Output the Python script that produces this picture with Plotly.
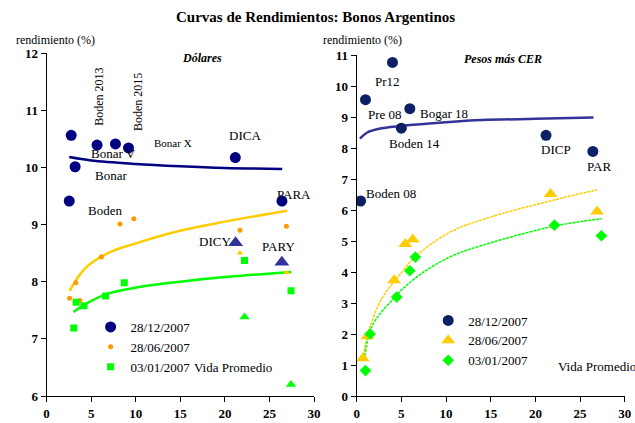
import plotly.graph_objects as go

SERIF = "Liberation Serif"

# ---------------- Left panel: Dólares ----------------
usd_dec_x = [2.76, 3.2, 2.54, 5.66, 7.72, 9.19, 21.17, 26.4]
usd_dec_y = [10.56, 10.01, 9.41, 10.39, 10.41, 10.34, 10.17, 9.41]
usd_dec_tri_x = [21.2, 26.39]
usd_dec_tri_y = [8.68, 8.34]

usd_jun_x = [2.58, 3.27, 3.75, 6.14, 8.24, 9.78, 21.69, 26.9]
usd_jun_y = [7.71, 7.98, 7.67, 8.43, 9.01, 9.10, 8.90, 8.97]
usd_jun_tri_x = [21.69, 26.94]
usd_jun_tri_y = [8.50, 8.16]

usd_jan_x = [3.05, 3.31, 4.19, 6.62, 8.71, 22.2, 27.42]
usd_jan_y = [7.19, 7.64, 7.58, 7.75, 7.98, 8.37, 7.84]
usd_jan_tri_x = [22.2, 27.42]
usd_jan_tri_y = [7.38, 6.2]

usd_trend_dec_x = [2.54, 5, 10, 15, 20, 26.43]
usd_trend_dec_y = [10.18, 10.12, 10.06, 10.02, 9.99, 9.97]
usd_trend_jun_x = [2.58, 4.3, 6.88, 10, 14.96, 20, 26.98]
usd_trend_jun_y = [7.84, 8.23, 8.50, 8.67, 8.89, 9.05, 9.24]
usd_trend_jan_x = [3.02, 4.5, 6.88, 10.55, 14.96, 20, 27.45]
usd_trend_jan_y = [7.47, 7.62, 7.79, 7.91, 8.0, 8.08, 8.17]

# ---------------- Right panel: Pesos más CER ----------------
cer_dec_x = [4.01, 0.99, 5.95, 5.0, 21.19, 26.43, 0.44]
cer_dec_y = [10.76, 9.56, 9.27, 8.64, 8.41, 7.89, 6.29]
cer_jun_x = [0.7, 1.21, 4.19, 5.44, 6.28, 21.7, 26.9]
cer_jun_y = [1.22, 1.93, 3.73, 4.90, 5.05, 6.52, 5.95]
cer_jan_x = [0.99, 1.51, 4.48, 5.95, 6.57, 22.14, 27.39]
cer_jan_y = [0.82, 2.0, 3.19, 4.04, 4.48, 5.51, 5.17]

cer_trend_dec_x = [0.37, 1.18, 2.5, 5.0, 10, 14.03, 20, 26.5]
cer_trend_dec_y = [8.30, 8.50, 8.62, 8.71, 8.83, 8.90, 8.94, 8.98]
cer_trend_jun_x = [0.74, 1.36, 2.83, 5.03, 6.5, 10.54, 14.4, 21.74, 26.9]
cer_trend_jun_y = [1.3, 2.1, 3.15, 3.98, 4.48, 5.3, 5.72, 6.3, 6.65]
cer_trend_jan_x = [0.92, 1.73, 4.3, 6.87, 10.54, 14.39, 22.1, 27.42]
cer_trend_jan_y = [1.29, 2.26, 3.2, 3.87, 4.5, 4.89, 5.48, 5.72]

x_ticks = [0, 5, 10, 15, 20, 25, 30]
usd_y_ticks = [6, 7, 8, 9, 10, 11, 12]
cer_y_ticks = list(range(0, 12))

def bold(vals):
    return ["<b>%d</b>" % v for v in vals]

NAVY = "#000080"
NAVY2 = "#0C2066"
SLATE = "#333399"
GOLD = "#FFCC00"
ORANGE = "#FF9900"
LIME = "#00FF00"

fig = go.Figure()

# Left trendlines
fig.add_trace(go.Scatter(x=usd_trend_dec_x, y=usd_trend_dec_y, mode="lines", line=dict(color=NAVY, width=2.5, shape="spline"), showlegend=False, xaxis="x", yaxis="y"))
fig.add_trace(go.Scatter(x=usd_trend_jun_x, y=usd_trend_jun_y, mode="lines", line=dict(color=GOLD, width=2.5, shape="spline"), showlegend=False, xaxis="x", yaxis="y"))
fig.add_trace(go.Scatter(x=usd_trend_jan_x, y=usd_trend_jan_y, mode="lines", line=dict(color=LIME, width=2.5, shape="spline"), showlegend=False, xaxis="x", yaxis="y"))

# Left markers
fig.add_trace(go.Scatter(x=usd_dec_x, y=usd_dec_y, mode="markers", name="28/12/2007", marker=dict(color=NAVY, size=11, symbol="circle"), legend="legend", xaxis="x", yaxis="y"))
fig.add_trace(go.Scatter(x=usd_jun_x, y=usd_jun_y, mode="markers", name="28/06/2007", marker=dict(color=ORANGE, size=5, symbol="circle"), legend="legend", xaxis="x", yaxis="y"))
fig.add_trace(go.Scatter(x=usd_jan_x, y=usd_jan_y, mode="markers", name="03/01/2007", marker=dict(color=LIME, size=7, symbol="square"), legend="legend", xaxis="x", yaxis="y"))
fig.add_trace(go.Scatter(x=usd_dec_tri_x, y=usd_dec_tri_y, mode="markers", marker=dict(color=SLATE, size=13, symbol="triangle-up"), showlegend=False, xaxis="x", yaxis="y"))
fig.add_trace(go.Scatter(x=usd_jun_tri_x, y=usd_jun_tri_y, mode="markers", marker=dict(color=GOLD, size=6, symbol="triangle-up"), showlegend=False, xaxis="x", yaxis="y"))
fig.add_trace(go.Scatter(x=usd_jan_tri_x, y=usd_jan_tri_y, mode="markers", marker=dict(color=LIME, size=9, symbol="triangle-up"), showlegend=False, xaxis="x", yaxis="y"))

# Right trendlines
fig.add_trace(go.Scatter(x=cer_trend_dec_x, y=cer_trend_dec_y, mode="lines", line=dict(color=SLATE, width=2.5, shape="spline"), showlegend=False, xaxis="x2", yaxis="y2"))
fig.add_trace(go.Scatter(x=cer_trend_jun_x, y=cer_trend_jun_y, mode="lines", line=dict(color=GOLD, width=1.5, shape="spline", dash="3px,1px"), showlegend=False, xaxis="x2", yaxis="y2"))
fig.add_trace(go.Scatter(x=cer_trend_jan_x, y=cer_trend_jan_y, mode="lines", line=dict(color=LIME, width=1.5, shape="spline", dash="3px,1px"), showlegend=False, xaxis="x2", yaxis="y2"))

# Right markers
fig.add_trace(go.Scatter(x=cer_dec_x, y=cer_dec_y, mode="markers", name="28/12/2007", marker=dict(color=NAVY2, size=11, symbol="circle"), legend="legend2", xaxis="x2", yaxis="y2"))
fig.add_trace(go.Scatter(x=cer_jun_x, y=cer_jun_y, mode="markers", name="28/06/2007", marker=dict(color=GOLD, size=12, symbol="triangle-up"), legend="legend2", xaxis="x2", yaxis="y2"))
fig.add_trace(go.Scatter(x=cer_jan_x, y=cer_jan_y, mode="markers", name="03/01/2007", marker=dict(color=LIME, size=9, symbol="diamond"), legend="legend2", xaxis="x2", yaxis="y2"))

tickfont = dict(family=SERIF, size=13, color="#000000")
axis_common = dict(showline=True, linecolor="#000000", linewidth=1.2, ticks="outside", ticklen=5,
                   tickcolor="#000000", showgrid=False, zeroline=False, tickfont=tickfont)

fig.update_layout(
    width=635, height=423,
    margin=dict(l=0, r=0, t=53, b=27),
    paper_bgcolor="white", plot_bgcolor="white",
    xaxis=dict(domain=[44.3/635, 316/635], range=[0, 30], tickvals=x_ticks, ticktext=bold(x_ticks), anchor="y", **axis_common),
    yaxis=dict(domain=[0, 1], range=[6, 12], tickvals=usd_y_ticks, ticktext=bold(usd_y_ticks), anchor="x", **axis_common),
    xaxis2=dict(domain=[359.3/635, 631.7/635], range=[0, 30], tickvals=x_ticks, ticktext=bold(x_ticks), anchor="y2", **axis_common),
    yaxis2=dict(domain=[0, 341/343], range=[0, 11], tickvals=cer_y_ticks, ticktext=bold(cer_y_ticks), anchor="x2", **axis_common),
    legend=dict(x=89/635, y=(396-312)/343, xanchor="left", yanchor="top", bgcolor="rgba(0,0,0,0)",
                font=dict(family=SERIF, size=13, color="#000"), tracegroupgap=0, itemclick=False),
    legend2=dict(x=432/635, y=(396-305.5)/343, xanchor="left", yanchor="top", bgcolor="rgba(0,0,0,0)",
                 font=dict(family=SERIF, size=13, color="#000"), tracegroupgap=0, itemclick=False),
    showlegend=True,
)

ann_font = dict(family=SERIF, size=13, color="#000")
def A(text, x, y, xref, yref, font=ann_font, **kw):
    d = dict(text=text, x=x, y=y, xref=xref, yref=yref, showarrow=False, font=font,
             xanchor=kw.pop("xanchor", "center"), yanchor=kw.pop("yanchor", "middle"))
    d.update(kw)
    return d

anns = [
    A("<b>Curvas de Rendimientos: Bonos Argentinos</b>", 318/635, (396-17)/343, "paper", "paper",
      font=dict(family=SERIF, size=15, color="#000")),
    A("rendimiento (%)", 53/635, (396-40)/343, "paper", "paper", font=dict(family=SERIF, size=12, color="#000")),
    A("rendimiento (%)", 365/635, (396-40)/343, "paper", "paper", font=dict(family=SERIF, size=12, color="#000")),
    # left
    A("<b><i>Dólares</i></b>", 17.42, 11.91, "x", "y", font=dict(family=SERIF, size=12, color="#000")),
    A("Boden 2013", 5.92, 11.24, "x", "y", font=dict(family=SERIF, size=12, color="#000"), textangle=-90),
    A("Boden 2015", 10.19, 11.15, "x", "y", font=dict(family=SERIF, size=12, color="#000"), textangle=-90),
    A("Bonar X", 14.16, 10.42, "x", "y", font=dict(family=SERIF, size=11, color="#000")),
    A("DICA", 22.24, 10.56, "x", "y"),
    A("Bonar V", 7.54, 10.25, "x", "y"),
    A("Bonar", 7.24, 9.86, "x", "y"),
    A("Boden", 6.5, 9.24, "x", "y"),
    A("PARA", 27.72, 9.52, "x", "y"),
    A("DICY", 18.9, 8.71, "x", "y"),
    A("PARY", 26.06, 8.61, "x", "y"),
    A("Vida Promedio", 20.9, 6.5, "x", "y"),
    # right
    A("<b><i>Pesos más CER</i></b>", 16.41, 10.86, "x2", "y2", font=dict(family=SERIF, size=12, color="#000")),
    A("Pr12", 3.49, 10.16, "x2", "y2"),
    A("Pre 08", 3.19, 9.09, "x2", "y2"),
    A("Bogar 18", 9.8, 9.12, "x2", "y2"),
    A("Boden 14", 6.5, 8.14, "x2", "y2"),
    A("DICP", 22.29, 7.94, "x2", "y2"),
    A("PAR", 27.17, 7.4, "x2", "y2"),
    A("Boden 08", 3.8, 6.52, "x2", "y2"),
    A("Vida Promedio", 22.29, 0.94, "x2", "y2", xanchor="left"),
]
fig.update_layout(annotations=anns)

fig.write_html("out.html", config={"displayModeBar": False},
               post_script="document.body.style.margin='0px';document.body.style.padding='0px';")
